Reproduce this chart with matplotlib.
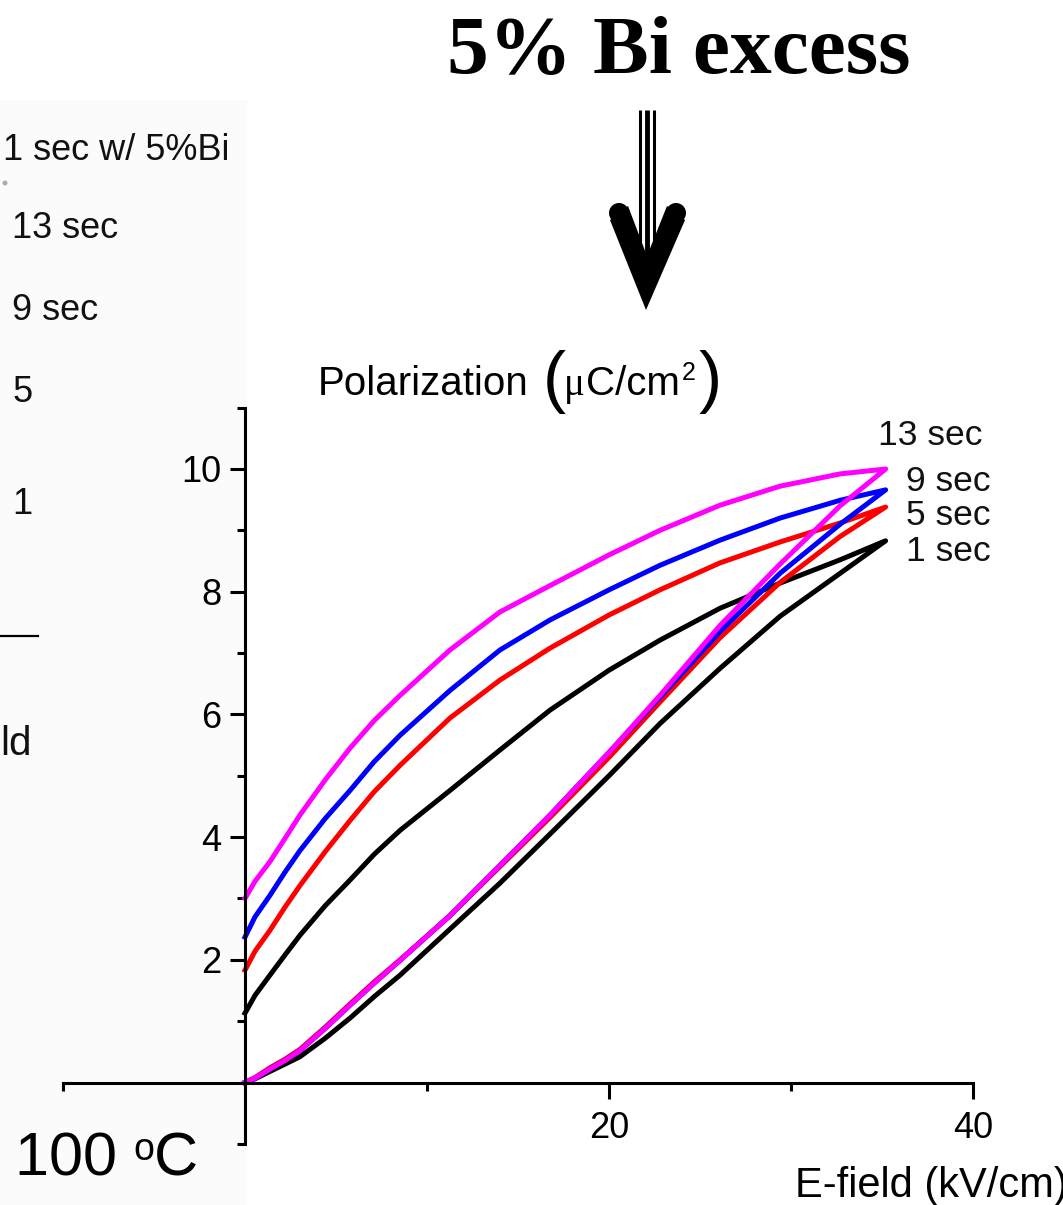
import numpy as np
import matplotlib.pyplot as plt
from matplotlib.patches import Rectangle, Polygon, Circle
from matplotlib.colors import LinearSegmentedColormap

# E-field (kV/cm) sample points
efield = [0, 0.55, 1.37, 2.2, 3.02, 4.4, 5.77, 7.1, 8.52, 11.26, 14.01, 16.76, 20.0, 22.8, 26.1, 29.4, 32.7, 35.2]

# polarization (uC/cm2), rising branch
p1_lo = [0, 0.06, 0.18, 0.30, 0.42, 0.72, 1.05, 1.40, 1.75, 2.50, 3.25, 4.05, 5.00, 5.85, 6.75, 7.60, 8.30, 8.83]
p5_lo = [0, 0.08, 0.24, 0.38, 0.54, 0.90, 1.28, 1.64, 2.00, 2.72, 3.52, 4.32, 5.30, 6.20, 7.25, 8.15, 8.90, 9.38]
p9_lo = [0, 0.07, 0.22, 0.36, 0.52, 0.88, 1.26, 1.62, 1.99, 2.72, 3.54, 4.36, 5.38, 6.28, 7.35, 8.30, 9.10, 9.66]
p13_lo = [0, 0.07, 0.22, 0.36, 0.52, 0.88, 1.26, 1.62, 1.99, 2.72, 3.54, 4.36, 5.38, 6.31, 7.45, 8.45, 9.40, 10.0]

# polarization, falling branch
p1_up = [1.13, 1.42, 1.75, 2.08, 2.40, 2.88, 3.30, 3.72, 4.11, 4.76, 5.42, 6.07, 6.72, 7.21, 7.73, 8.14, 8.52, 8.83]
p5_up = [1.83, 2.14, 2.48, 2.86, 3.21, 3.76, 4.27, 4.74, 5.17, 5.94, 6.56, 7.08, 7.62, 8.03, 8.47, 8.81, 9.12, 9.38]
p9_up = [2.37, 2.70, 3.05, 3.43, 3.78, 4.30, 4.76, 5.23, 5.66, 6.39, 7.05, 7.54, 8.03, 8.43, 8.84, 9.20, 9.49, 9.66]
p13_up = [3.00, 3.28, 3.60, 3.98, 4.36, 4.93, 5.45, 5.90, 6.31, 7.05, 7.67, 8.10, 8.60, 9.00, 9.41, 9.72, 9.92, 10.0]

labels = ["1 sec", "5 sec", "9 sec", "13 sec"]
colors = ["black", "#ff0000", "#0000ff", "#ff00ff"]
label_y = [8.66, 9.25, 9.80, 10.54]
label_x = [36.3, 36.3, 36.3, 34.8]

W, H = 1063, 1205
fig = plt.figure(figsize=(W / 100, H / 100), dpi=100)
plt.rcParams['font.family'] = ['Liberation Sans', 'DejaVu Sans']

# background / decoration layer in pixel coords
bg = fig.add_axes([0, 0, 1, 1], zorder=0)
bg.axis('off')

bg.add_patch(Rectangle((0, 100), 247, H - 100, color='#fbfbfb', lw=0))
grad = np.linspace(0, 1, 200)[:, None]
cm = LinearSegmentedColormap.from_list('sky', ['#fbfbfb', '#c6e2f8'])
bg.imshow(grad, cmap=cm, extent=[0, 38, H, 850], aspect='auto', origin='upper')
bg.set_xlim(0, W)
bg.set_ylim(H, 0)

# title and arrow
bg.text(679, 73, "5% Bi excess", family='Liberation Serif', weight='bold',
        fontsize=60, ha='center', va='baseline')
for x0, w in [(639.5, 2.2), (646.5, 3.5), (653.5, 2.2)]:
    bg.plot([x0, x0], [110, 262], color='black', lw=w, solid_capstyle='butt')
bg.add_patch(Polygon([(610, 220), (628, 206), (647, 256), (667, 206),
                      (685, 220), (646, 310)], closed=True, color='black', lw=0))
bg.add_patch(Circle((619, 213), 10, color='black', lw=0))
bg.add_patch(Circle((676, 213), 10, color='black', lw=0))

# left (cropped) panel pieces
bg.text(3, 150, "1 sec w/ 5%Bi", fontsize=26, va='center', ha='left', color='#111111')
bg.add_patch(Circle((5, 183), 2.5, color='#aaaaaa', lw=0))
bg.text(12, 228, "13 sec", fontsize=26, va='center', ha='left', color='#111111')
bg.text(12, 311, "9 sec", fontsize=26, va='center', ha='left', color='#111111')
bg.text(12, 392, "5", fontsize=26, va='center', ha='left', color='#111111')
bg.text(12, 505, "1", fontsize=26, va='center', ha='left', color='#111111')
bg.plot([0, 38], [636, 636], color='black', lw=1.6)
bg.text(0, 755, "ld", fontsize=29, va='baseline', ha='left', color='#111111')
bg.text(15, 1175, "100 ", fontsize=44, va='baseline', ha='left')
bg.text(133, 1160, "o", fontsize=27, va='baseline', ha='left')
bg.text(154, 1175, "C", fontsize=44, va='baseline', ha='left')

# axis titles
bg.text(318, 395, "Polarization", fontsize=29, va='baseline', ha='left')
bg.text(543, 400, "(", fontsize=50, va='baseline', ha='left')
bg.text(564, 395, "\u03bc", fontsize=28, family='Liberation Serif', va='baseline', ha='left')
bg.text(586, 395, "C/cm", fontsize=29, va='baseline', ha='left')
bg.text(682, 380, "2", fontsize=18, va='baseline', ha='left')
bg.text(699, 400, ")", fontsize=50, va='baseline', ha='left')
bg.text(795, 1197, "E-field (kV/cm)", fontsize=30, va='baseline', ha='left')

# data axes, scaled so spines land where the reference draws them
ax = fig.add_axes([0, 0, 1, 1], zorder=1)
ax.patch.set_alpha(0)
xs = 18.2
ys = 61.35
ax.set_xlim(-245 / xs, (W - 245) / xs)
ax.set_ylim((1082.5 - H) / ys, 1082.5 / ys)

for lo, up, c in zip([p1_lo, p5_lo, p9_lo, p13_lo], [p1_up, p5_up, p9_up, p13_up], colors):
    x = list(efield) + list(efield[::-1])
    y = list(lo) + list(up[::-1])
    ax.plot(x, y, color=c, lw=3.6, solid_joinstyle='round')

for lab, lx, ly in zip(labels, label_x, label_y):
    ax.text(lx, ly, lab, fontsize=25.5, va='center', ha='left', color='#111111')

for s in ['top', 'right']:
    ax.spines[s].set_visible(False)
ax.spines['left'].set_position(('data', 0))
ax.spines['bottom'].set_position(('data', 0))
ax.spines['left'].set_bounds(-1, 11)
ax.spines['bottom'].set_bounds(-10, 40)
for s in ['left', 'bottom']:
    ax.spines[s].set_linewidth(2.2)

ax.set_xticks([20, 40])
ax.set_xticklabels(["20", "40"])
ax.set_xticks([-10, 10, 30], minor=True)
ax.set_yticks([2, 4, 6, 8, 10])
ax.set_yticks([-1, 1, 3, 5, 7, 9, 11], minor=True)
ax.tick_params(axis='both', which='major', direction='out', width=2.2, labelsize=26)
ax.tick_params(axis='x', which='major', length=11.5, pad=9)
ax.tick_params(axis='y', which='major', length=10.8, pad=6)
ax.tick_params(axis='both', which='minor', direction='out', width=2.2, length=6)

fig.savefig("out.png", dpi=100)
